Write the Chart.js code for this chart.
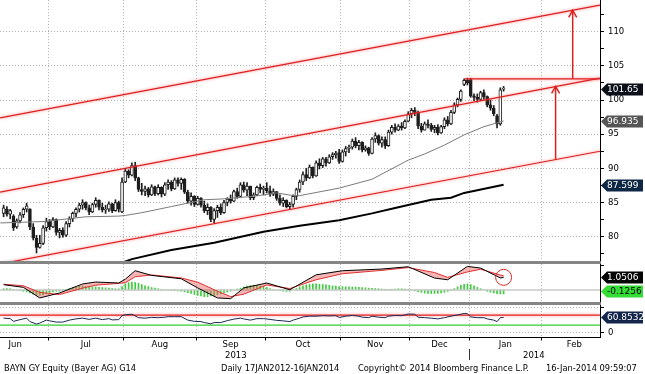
<!DOCTYPE html>
<html>
<head>
<meta charset="utf-8">
<script src="https://cdn.jsdelivr.net/npm/chart.js@4.4.1/dist/chart.umd.min.js"></script>
<style>
  html, body { margin: 0; padding: 0; background: #fff; }
  #page { position: relative; width: 645px; height: 374px; overflow: hidden; font-family: "DejaVu Sans", sans-serif; color: #000; }
  canvas { position: absolute; left: 0; }
  .sep { position: absolute; left: 0; width: 601px; height: 3px; background: #858585; }
  .txt { position: absolute; font-size: 8.3px; line-height: 10px; white-space: nowrap; }
</style>
</head>
<body>
<div id="page">
  <canvas id="priceChart" width="645" height="300"></canvas>
  <canvas id="macdChart" width="645" height="80"></canvas>
  <canvas id="rsiChart" width="645" height="80"></canvas>
  <div class="sep" style="top:261px"></div>
  <div class="sep" style="top:302px"></div>
  <div class="txt" style="left:225px; top:350px; font-size:8.5px">2013</div>
  <div class="txt" style="left:523px; top:350px; font-size:8.5px">2014</div>
  <div style="position:absolute; left:469px; top:349px; width:1px; height:11px; background:#333"></div>
  <div class="txt" style="left:4px; top:363px">BAYN GY Equity (Bayer AG) G14</div>
  <div class="txt" style="left:221px; top:363px">Daily 17JAN2012-16JAN2014</div>
  <div class="txt" style="left:358px; top:363px">Copyright© 2014 Bloomberg Finance L.P.</div>
  <div class="txt" style="left:546px; top:363px">16-Jan-2014 09:59:07</div>
</div>
<script>
const FONT = '"DejaVu Sans", sans-serif';

// x = trading day index, 0 = 10 Jun 2013 (one slot per Xetra session)
const X_MIN = -0.1;
const X_MAX = 182.3;
const monthBounds = [14.5, 37.5, 59.5, 80.5, 103.5, 124.5, 142.5, 164.5];
const monthCenters = [4.5, 26, 48.5, 70, 92, 114, 133.5, 153.5, 174.5];
const monthLabels = ['Jun', 'Jul', 'Aug', 'Sep', 'Oct', 'Nov', 'Dec', 'Jan', 'Feb'];

// daily bars, 11 Jun 2013 .. 16 Jan 2014
const firstDay = 1;
const opens = [83.4, 84.0, 83.3, 83.0, 81.4, 82.3, 83.2, 84.0, 84.0, 81.4, 79.8, 78.4, 79.0, 81.3, 82.2, 81.4, 82.5, 80.6, 80.9, 80.2,
  81.9, 82.6, 83.4, 84.0, 84.6, 85.0, 84.2, 83.6, 84.7, 85.3, 84.3, 83.9, 84.0, 84.8, 83.8, 85.0, 83.6, 88.0, 89.6, 89.0,
  90.4, 88.6, 86.9, 86.6, 87.0, 86.1, 87.3, 86.3, 87.2, 86.2, 87.6, 88.0, 87.0, 88.3, 87.8, 88.4, 86.5, 85.2, 85.9, 84.7,
  85.6, 84.6, 83.8, 84.3, 82.5, 83.8, 84.3, 83.5, 85.0, 85.5, 85.2, 86.6, 85.9, 87.6, 86.8, 87.4, 85.7, 86.1, 87.2, 86.9,
  87.1, 86.7, 86.2, 86.6, 85.6, 84.9, 85.3, 84.4, 84.7, 85.9, 86.9, 88.0, 89.1, 88.6, 90.2, 88.9, 90.8, 90.4, 91.4, 90.8,
  91.7, 92.0, 92.3, 91.0, 92.4, 92.9, 93.1, 94.0, 93.3, 93.8, 92.7, 93.0, 92.2, 94.3, 94.8, 93.7, 94.2, 93.3, 95.3, 96.0,
  95.6, 96.2, 95.9, 96.9, 98.0, 98.5, 98.2, 96.2, 95.6, 96.5, 96.3, 95.7, 96.0, 95.2, 96.1, 97.1, 96.5, 98.2, 99.3, 100.1,
  102.3, 102.9, 103.0, 100.6, 100.4, 100.1, 101.1, 100.5, 99.3, 98.8, 97.7, 96.5, 101.6];
const highs = [84.6, 84.4, 84.0, 83.2, 82.6, 83.5, 84.2, 84.9, 84.1, 81.9, 80.2, 80.2, 81.6, 82.7, 82.5, 82.8, 82.6, 81.2, 81.3, 82.2,
  82.9, 83.6, 84.2, 84.9, 85.4, 85.1, 84.6, 84.9, 85.7, 85.4, 84.9, 84.6, 85.1, 84.9, 85.4, 85.2, 88.6, 90.0, 89.8, 90.8,
  90.9, 88.7, 87.8, 87.4, 87.2, 87.6, 87.4, 87.6, 87.3, 87.9, 88.3, 88.2, 88.6, 88.6, 88.6, 88.5, 86.8, 86.4, 86.0, 85.9,
  85.7, 85.2, 84.8, 84.4, 84.1, 84.6, 84.8, 85.3, 85.7, 86.1, 86.8, 87.1, 87.9, 88.0, 87.9, 87.4, 86.4, 87.4, 87.7, 87.4,
  87.9, 87.4, 87.0, 86.6, 86.1, 85.7, 85.4, 85.0, 86.1, 87.1, 88.3, 89.5, 90.0, 90.5, 90.2, 91.1, 91.4, 91.6, 91.6, 92.0,
  92.3, 92.5, 92.8, 92.7, 93.2, 93.4, 94.3, 94.5, 94.1, 93.9, 93.3, 93.1, 94.5, 95.2, 94.9, 94.6, 94.6, 95.6, 96.3, 96.5,
  96.4, 96.7, 97.1, 98.3, 98.8, 98.9, 98.4, 96.6, 96.8, 97.1, 96.6, 96.3, 96.4, 96.3, 97.4, 97.6, 98.5, 99.6, 100.3, 101.5,
  103.1, 103.2, 103.2, 100.9, 100.9, 101.3, 101.5, 100.6, 100.0, 99.2, 97.9, 101.8, 102.0];
const lows = [82.9, 83.0, 82.6, 80.9, 81.2, 82.0, 82.8, 83.6, 81.0, 79.5, 77.6, 78.3, 78.8, 80.8, 81.0, 81.3, 80.2, 79.8, 79.9, 80.0,
  81.4, 82.2, 82.9, 83.6, 84.0, 83.9, 83.2, 83.5, 84.3, 83.9, 83.6, 83.4, 83.7, 83.5, 83.7, 83.6, 83.5, 87.9, 88.6, 88.9,
  88.2, 86.6, 86.1, 86.0, 85.8, 86.0, 86.0, 86.1, 85.8, 86.0, 86.9, 86.7, 86.9, 87.4, 86.9, 86.3, 84.9, 84.6, 84.4, 84.6,
  84.3, 83.5, 83.2, 82.2, 82.0, 82.8, 83.2, 83.4, 84.5, 84.9, 85.1, 85.6, 85.8, 86.5, 86.0, 85.4, 85.4, 86.0, 86.4, 86.1,
  86.4, 85.9, 86.0, 85.3, 84.6, 84.4, 84.2, 84.0, 84.3, 85.4, 86.5, 87.6, 88.2, 88.5, 88.6, 88.8, 89.9, 90.1, 90.3, 90.7,
  91.3, 91.5, 90.7, 90.9, 91.8, 92.3, 92.8, 93.0, 92.7, 92.4, 92.5, 91.9, 92.1, 93.8, 93.4, 93.1, 92.9, 93.2, 95.0, 95.3,
  95.5, 95.6, 95.8, 96.8, 97.4, 97.7, 95.8, 95.3, 95.6, 95.9, 95.4, 95.2, 94.9, 95.1, 95.8, 96.2, 96.4, 98.0, 99.0, 99.8,
  102.1, 102.2, 100.4, 99.9, 99.7, 99.9, 100.1, 99.0, 98.5, 97.7, 95.9, 96.3, 101.3];
const closes = [84.2, 83.3, 83.8, 81.3, 82.3, 83.2, 84.0, 84.5, 81.4, 79.8, 78.4, 79.0, 81.3, 82.2, 81.4, 82.5, 80.6, 80.9, 80.2, 81.9,
  82.6, 83.4, 84.0, 84.6, 85.0, 84.2, 83.6, 84.7, 85.3, 84.3, 83.9, 84.0, 84.8, 83.8, 85.0, 84.0, 88.0, 89.6, 89.0, 90.4,
  88.6, 86.9, 86.6, 87.0, 86.1, 87.3, 86.3, 87.2, 86.2, 87.6, 88.0, 87.0, 88.3, 87.8, 88.4, 86.5, 85.2, 85.9, 84.7, 85.6,
  84.6, 83.8, 84.3, 82.5, 83.8, 84.3, 83.5, 85.0, 85.5, 85.2, 86.6, 85.9, 87.6, 86.8, 87.4, 85.7, 86.1, 87.2, 86.9, 87.1,
  86.7, 86.2, 86.6, 85.6, 84.9, 85.3, 84.4, 84.7, 85.9, 86.9, 88.0, 89.1, 88.6, 90.2, 88.9, 90.8, 90.4, 91.4, 90.8, 91.7,
  92.0, 92.2, 91.0, 92.4, 92.9, 93.1, 94.0, 93.3, 93.8, 92.7, 93.0, 92.2, 94.3, 94.8, 93.7, 94.2, 93.3, 95.3, 96.0, 95.6,
  96.2, 95.9, 96.9, 98.0, 98.5, 98.2, 96.2, 95.6, 96.5, 96.3, 95.7, 96.0, 95.2, 96.1, 97.1, 96.5, 98.2, 99.3, 100.1, 101.3,
  102.9, 102.5, 100.6, 100.4, 100.1, 101.1, 100.5, 99.3, 98.8, 98.0, 96.5, 101.5, 101.65];

// moving averages read at sample days
const ma50Days = [0, 13, 26, 36, 38, 43, 52, 62, 67, 77, 84, 89, 91, 103, 113, 124, 129, 135, 141, 147, 153];
const ma50Vals = [82.0, 82.2, 82.9, 83.0, 83.1, 83.5, 84.4, 85.4, 85.5, 85.9, 86.4, 86.0, 86.0, 87.1, 88.4, 91.2, 92.1, 93.4, 94.9, 96.1, 96.935];
const ma200Days = [36, 40, 52, 65, 80, 91, 103, 113, 120, 131, 137, 141, 153];
const ma200Vals = [76.0, 76.7, 78.05, 79.1, 80.7, 81.6, 82.4, 83.4, 84.2, 85.4, 85.7, 86.4, 87.599];

// trend channel (values at the two chart edges), resistance and target arrows
const channelUpper = [97.4, 113.9];
const channelMid = [86.5, 103.2];
const channelLow = [76.0, 92.5];
const resistDays = [141.2, X_MAX];
const resistLevel = 103.1;
const arrowDays = [174.0, 168.8];
const arrowFrom = [103.1, 91.3];
const arrowTo = [113.15, 102.0];

// MACD panel
const macdDays = [1, 7, 12, 18, 25, 29, 36, 38, 41, 46, 55, 60, 66, 70, 74, 81, 88, 96, 104, 116, 124, 132, 136, 142, 146, 152, 153];
const macdVals = [0.44, 0.22, -0.66, -0.25, 0.50, 0.66, 0.58, 0.9, 1.60, 1.21, 0.93, 0.17, -0.66, -0.72, 0.17, 0.58, 0.02, 1.26, 1.60, 1.74, 1.93, 0.99, 0.85, 1.96, 1.82, 1.00, 1.0506];
const signalVals = [0.48, 0.35, -0.2, -0.38, 0.15, 0.4, 0.55, 0.6, 1.1, 1.25, 1.0, 0.65, -0.1, -0.55, -0.35, 0.42, 0.12, 0.85, 1.35, 1.63, 1.86, 1.45, 1.05, 1.5, 1.72, 1.25, 1.176];
const histVals = [0.04, 0.045, 0.04, 0.02, 0.0, -0.02, -0.04,
  -0.06, -0.09, -0.13, -0.16, -0.17, -0.15, -0.11,
  -0.08, -0.06, -0.04, -0.04, -0.02,
  0.02, 0.05, 0.08, 0.1, 0.12, 0.125, 0.11, 0.1, 0.095,
  0.095, 0.083, 0.076, 0.068, 0.057, 0.045, 0.038, 0.038,
  0.11, 0.19, 0.23, 0.25, 0.235, 0.21, 0.17,
  0.13, 0.105, 0.076, 0.057, 0.038,
  0.02, 0.0, -0.01, -0.02, -0.02, -0.03, -0.04, -0.057, -0.083,
  -0.11, -0.14, -0.17, -0.19, -0.21, -0.21, -0.19, -0.17,
  -0.15, -0.125, -0.095, -0.068, -0.038, -0.008,
  0.03, 0.057, 0.095, 0.12, 0.14, 0.15, 0.14, 0.125, 0.105, 0.076,
  0.045, 0.02, 0.0, -0.02, -0.038, -0.045, -0.038,
  0.0, 0.045, 0.095, 0.13, 0.16, 0.18, 0.19, 0.19, 0.18, 0.17, 0.16, 0.145, 0.13,
  0.12, 0.11, 0.105, 0.1, 0.095, 0.095, 0.09, 0.083, 0.076, 0.068, 0.057, 0.05, 0.045, 0.038, 0.03,
  0.023, 0.02, 0.023, 0.03, 0.038, 0.038, 0.03, 0.02,
  -0.008, -0.03, -0.057, -0.076, -0.095, -0.105, -0.11, -0.11, -0.105, -0.095, -0.076, -0.045, -0.02,
  0.04, 0.095, 0.145, 0.18, 0.19, 0.17,
  0.13, 0.08, 0.04, 0.0, -0.04, -0.07, -0.095, -0.115, -0.125, -0.1256];

// RSI panel
const rsiDays = [1, 3, 4, 6, 8, 9, 11, 12, 14, 15, 17, 19, 21, 23, 25, 27, 29, 31, 33, 34, 36, 37, 38, 40, 42, 44, 46, 48, 50, 51,
  53, 55, 57, 59, 61, 62, 64, 65, 67, 69, 71, 73, 74, 76, 78, 80, 82, 84, 86, 88, 89, 91, 92, 94, 96, 98, 100, 102, 103, 105,
  107, 109, 110, 112, 113, 115, 117, 118, 120, 122, 124, 126, 127, 129, 131, 133, 135, 137, 139, 141, 142, 143, 145, 147, 148, 150, 151, 152, 153];
const rsiVals = [58, 56, 45, 52, 58, 44, 34, 38, 50, 47, 42, 42, 50, 55, 58, 53, 58, 52, 56, 51, 52, 68, 72, 74, 60, 58, 61, 60, 62, 64,
  64, 64, 50, 45, 44, 40, 35, 40, 40, 48, 54, 58, 55, 50, 56, 56, 53, 49, 47, 44, 50, 58, 63, 66, 66, 68, 67, 68, 61, 66,
  69, 66, 62, 60, 66, 62, 60, 66, 69, 68, 75, 74, 62, 60, 58, 55, 60, 66, 71, 77, 76, 63, 60, 60, 55, 50, 44, 60, 60.8532];
const rsiUpper = 70;
const rsiLower = 30;

// helpers to turn the arrays into {x, y} points
const pts = (days, vals) => days.map((d, k) => ({ x: d, y: vals[k] }));
const dayOf = k => firstDay + k;

// x axis shared by the three panels
function monthAxis(showLabels) {
  const isBound = c => c.tick && monthBounds.includes(c.tick.value);
  return {
    type: 'linear', min: X_MIN, max: X_MAX, position: 'bottom', offset: false,
    afterBuildTicks: s => {
      const vals = showLabels ? monthBounds.concat(monthCenters).sort((a, b) => a - b) : monthBounds;
      s.ticks = vals.map(v => ({ value: v }));
    },
    ticks: {
      display: showLabels, autoSkip: false, maxRotation: 0, padding: 0, color: '#000',
      font: { family: FONT, size: 8.5, lineHeight: 1 },
      callback: v => { const k = monthCenters.indexOf(v); return k >= 0 ? monthLabels[k] : ''; }
    },
    grid: {
      offset: false,
      color: c => isBound(c) ? '#b0b0b0' : 'rgba(0,0,0,0)',
      tickColor: c => isBound(c) ? '#000' : 'rgba(0,0,0,0)',
      drawTicks: showLabels, tickLength: 3
    },
    border: { display: showLabels, color: '#000', dash: [1, 2] }
  };
}

// right value axis; the two range ends carry no tick and no label
function valueAxis(min, max, tickVals, labelFor, gridFor) {
  const inner = c => c.tick && c.tick.value !== min && c.tick.value !== max;
  return {
    type: 'linear', position: 'right', min: min, max: max,
    afterBuildTicks: s => { s.ticks = [min].concat(tickVals, [max]).map(v => ({ value: v })); },
    afterFit: s => { s.width = 45; },
    ticks: {
      autoSkip: false, padding: 4, color: '#000', font: { family: FONT, size: 8.5 },
      callback: v => (v === min || v === max) ? null : labelFor(v)
    },
    grid: {
      color: c => inner(c) && gridFor(c.tick.value) ? '#b0b0b0' : 'rgba(0,0,0,0)',
      tickColor: c => inner(c) ? '#000' : 'rgba(0,0,0,0)',
      tickLength: 4
    },
    border: { color: '#000', dash: [1, 2] }
  };
}

// soft red halo on the hand drawn lines
const glowPlugin = {
  id: 'glow',
  beforeDatasetDraw(chart, args) {
    if (chart.data.datasets[args.index].glow) {
      chart.ctx.save();
      chart.ctx.shadowColor = 'rgba(255, 80, 80, 0.75)';
      chart.ctx.shadowBlur = 3;
    }
  },
  afterDatasetDraw(chart, args) {
    if (chart.data.datasets[args.index].glow) chart.ctx.restore();
  }
};

// last value tags at the right edge
function tagPlugin(tags) {
  return {
    id: 'tags',
    afterDraw(chart) {
      const ctx = chart.ctx;
      const x0 = chart.chartArea.right + 1;
      tags.forEach(t => {
        const y = Math.round(chart.scales.y.getPixelForValue(t.value)) + 0.5;
        ctx.save();
        ctx.beginPath();
        ctx.moveTo(x0, y);
        ctx.lineTo(x0 + 6, y - 6);
        ctx.lineTo(643, y - 6);
        ctx.lineTo(643, y + 6);
        ctx.lineTo(x0 + 6, y + 6);
        ctx.closePath();
        ctx.fillStyle = t.bg;
        ctx.fill();
        ctx.fillStyle = t.fg;
        ctx.font = '9px ' + FONT;
        ctx.textBaseline = 'middle';
        ctx.fillText(t.text, x0 + 6, y + 0.5);
        ctx.restore();
      });
    }
  };
}

// open heads on the target arrows
const arrowHeadPlugin = {
  id: 'arrowHeads',
  afterDatasetsDraw(chart) {
    const ctx = chart.ctx;
    chart.data.datasets.forEach((ds, k) => {
      if (!ds.arrowHead) return;
      const els = chart.getDatasetMeta(k).data;
      const tip = els[els.length - 1];
      ctx.save();
      ctx.strokeStyle = ds.borderColor;
      ctx.lineWidth = 1.5;
      ctx.beginPath();
      ctx.moveTo(tip.x - 4, tip.y + 7);
      ctx.lineTo(tip.x, tip.y);
      ctx.lineTo(tip.x + 4, tip.y + 7);
      ctx.stroke();
      ctx.restore();
    });
  }
};

// build the chart once, read how much room the axes took, then size and
// shift the canvas so the plot area lands on the wanted rows of the page
function placeChart(id, areaTop, areaBottom, makeConfig) {
  const canvas = document.getElementById(id);
  const probe = new Chart(canvas, makeConfig());
  const padTop = probe.chartArea.top;
  const padBottom = probe.height - probe.chartArea.bottom;
  probe.destroy();
  const top = Math.round(areaTop - padTop);
  canvas.width = 645;
  canvas.height = Math.round(areaBottom - top + padBottom);
  canvas.style.top = top + 'px';
  return new Chart(canvas, makeConfig());
}

const baseOptions = () => ({
  responsive: false, maintainAspectRatio: false, animation: false, events: [],
  layout: { autoPadding: false },
  plugins: { legend: { display: false }, tooltip: { enabled: false } }
});

const RED = '#dd1f1f';
const lineDs = (data, color, width, extra) => Object.assign({
  type: 'line', data: data, borderColor: color, borderWidth: width, pointRadius: 0, fill: false, order: 1
}, extra || {});

// ---------- price panel ----------
placeChart('priceChart', 0, 261, () => ({
  type: 'line',
  data: {
    datasets: [
      { type: 'bar', data: highs.map((h, k) => ({ x: dayOf(k), y: [lows[k], h] })),
        backgroundColor: '#1e1e1e', barThickness: 1, grouped: false, order: 3 },
      { type: 'bar', data: opens.map((o, k) => ({ x: dayOf(k), y: [o, closes[k]] })),
        backgroundColor: opens.map((o, k) => closes[k] >= o ? '#ffffff' : '#1e1e1e'),
        borderColor: '#1e1e1e', borderWidth: 1, borderSkipped: false, barThickness: 3, minBarLength: 1,
        grouped: false, order: 2 },
      lineDs(pts(ma50Days, ma50Vals), '#7a7a7a', 1),
      lineDs(pts(ma200Days, ma200Vals), '#000000', 2),
      lineDs(pts([X_MIN, X_MAX], channelUpper), RED, 1.2, { glow: true }),
      lineDs(pts([X_MIN, X_MAX], channelMid), RED, 1.2, { glow: true }),
      lineDs(pts([X_MIN, X_MAX], channelLow), RED, 1.2, { glow: true }),
      lineDs(pts(resistDays, [resistLevel, resistLevel]), RED, 1.2, { glow: true }),
      lineDs(pts([arrowDays[0], arrowDays[0]], [arrowFrom[0], arrowTo[0]]), RED, 1.5, { arrowHead: true }),
      lineDs(pts([arrowDays[1], arrowDays[1]], [arrowFrom[1], arrowTo[1]]), RED, 1.5, { arrowHead: true })
    ]
  },
  options: Object.assign(baseOptions(), {
    scales: {
      x: monthAxis(false),
      y: valueAxis(76.44, 114.64,
        [77.5, 80, 82.5, 85, 87.5, 90, 92.5, 95, 97.5, 100, 102.5, 105, 107.5, 110, 112.5],
        v => v % 5 === 0 ? String(v) : '',
        v => v % 5 === 0)
    }
  }),
  plugins: [glowPlugin, arrowHeadPlugin, tagPlugin([
    { value: closes[closes.length - 1], text: String(closes[closes.length - 1]), bg: '#0a0f18', fg: '#fff' },
    { value: ma50Vals[ma50Vals.length - 1], text: String(ma50Vals[ma50Vals.length - 1]), bg: '#555555', fg: '#fff' },
    { value: ma200Vals[ma200Vals.length - 1], text: String(ma200Vals[ma200Vals.length - 1]), bg: '#0e2744', fg: '#fff' }
  ])]
}));

// ---------- MACD panel ----------
const endCirclePlugin = {
  id: 'endCircle',
  afterDatasetsDraw(chart) {
    const els = chart.getDatasetMeta(2).data;
    const end = els[els.length - 1];
    const ctx = chart.ctx;
    ctx.save();
    ctx.strokeStyle = '#d42a2a';
    ctx.lineWidth = 1;
    ctx.beginPath();
    ctx.arc(end.x, end.y, 8, 0, Math.PI * 2);
    ctx.stroke();
    ctx.restore();
  }
};

placeChart('macdChart', 264, 302, () => ({
  type: 'line',
  data: {
    datasets: [
      { type: 'bar', data: histVals.map((v, k) => ({ x: dayOf(k), y: v })), yAxisID: 'y2',
        backgroundColor: '#3ccc3c', barThickness: 1, grouped: false, order: 5 },
      lineDs(pts([X_MIN, X_MAX], [0, 0]), '#c8c8c8', 1.5, { order: 4 }),
      lineDs(pts(macdDays, macdVals), '#000000', 1, { order: 1 }),
      lineDs(pts(macdDays, signalVals), '#e03030', 1, {
        order: 2, fill: { target: 2, above: 'rgba(232, 90, 90, 0.45)', below: 'rgba(232, 90, 90, 0.45)' }
      })
    ]
  },
  options: Object.assign(baseOptions(), {
    scales: {
      x: monthAxis(false),
      y: valueAxis(-0.99, 2.15, [2], v => '', v => false),
      y2: { type: 'linear', display: false, min: -0.375, max: 0.8125 }
    }
  }),
  plugins: [endCirclePlugin, tagPlugin([
    { value: macdVals[macdVals.length - 1], text: String(macdVals[macdVals.length - 1]), bg: '#050505', fg: '#fff' },
    { value: histVals[histVals.length - 1], text: String(histVals[histVals.length - 1]), bg: '#33dd33', fg: '#000' }
  ])]
}));

// ---------- RSI panel ----------
placeChart('rsiChart', 305, 337.5, () => ({
  type: 'line',
  data: {
    datasets: [
      lineDs(pts([X_MIN, X_MAX], [rsiUpper, rsiUpper]), '#e02424', 1.3, { glow: true, order: 3 }),
      lineDs(pts([X_MIN, X_MAX], [rsiLower, rsiLower]), '#33cc33', 1.2, { order: 2 }),
      lineDs(pts(rsiDays, rsiVals), '#1b2a56', 1, { order: 1 })
    ]
  },
  options: Object.assign(baseOptions(), {
    scales: {
      x: monthAxis(true),
      y: valueAxis(-20.8, 111.2, [0, 100], v => v === 0 ? '0' : '', v => true)
    }
  }),
  plugins: [glowPlugin, tagPlugin([
    { value: rsiVals[rsiVals.length - 1], text: String(rsiVals[rsiVals.length - 1]), bg: '#13254a', fg: '#fff' }
  ])]
}));
</script>
</body>
</html>
